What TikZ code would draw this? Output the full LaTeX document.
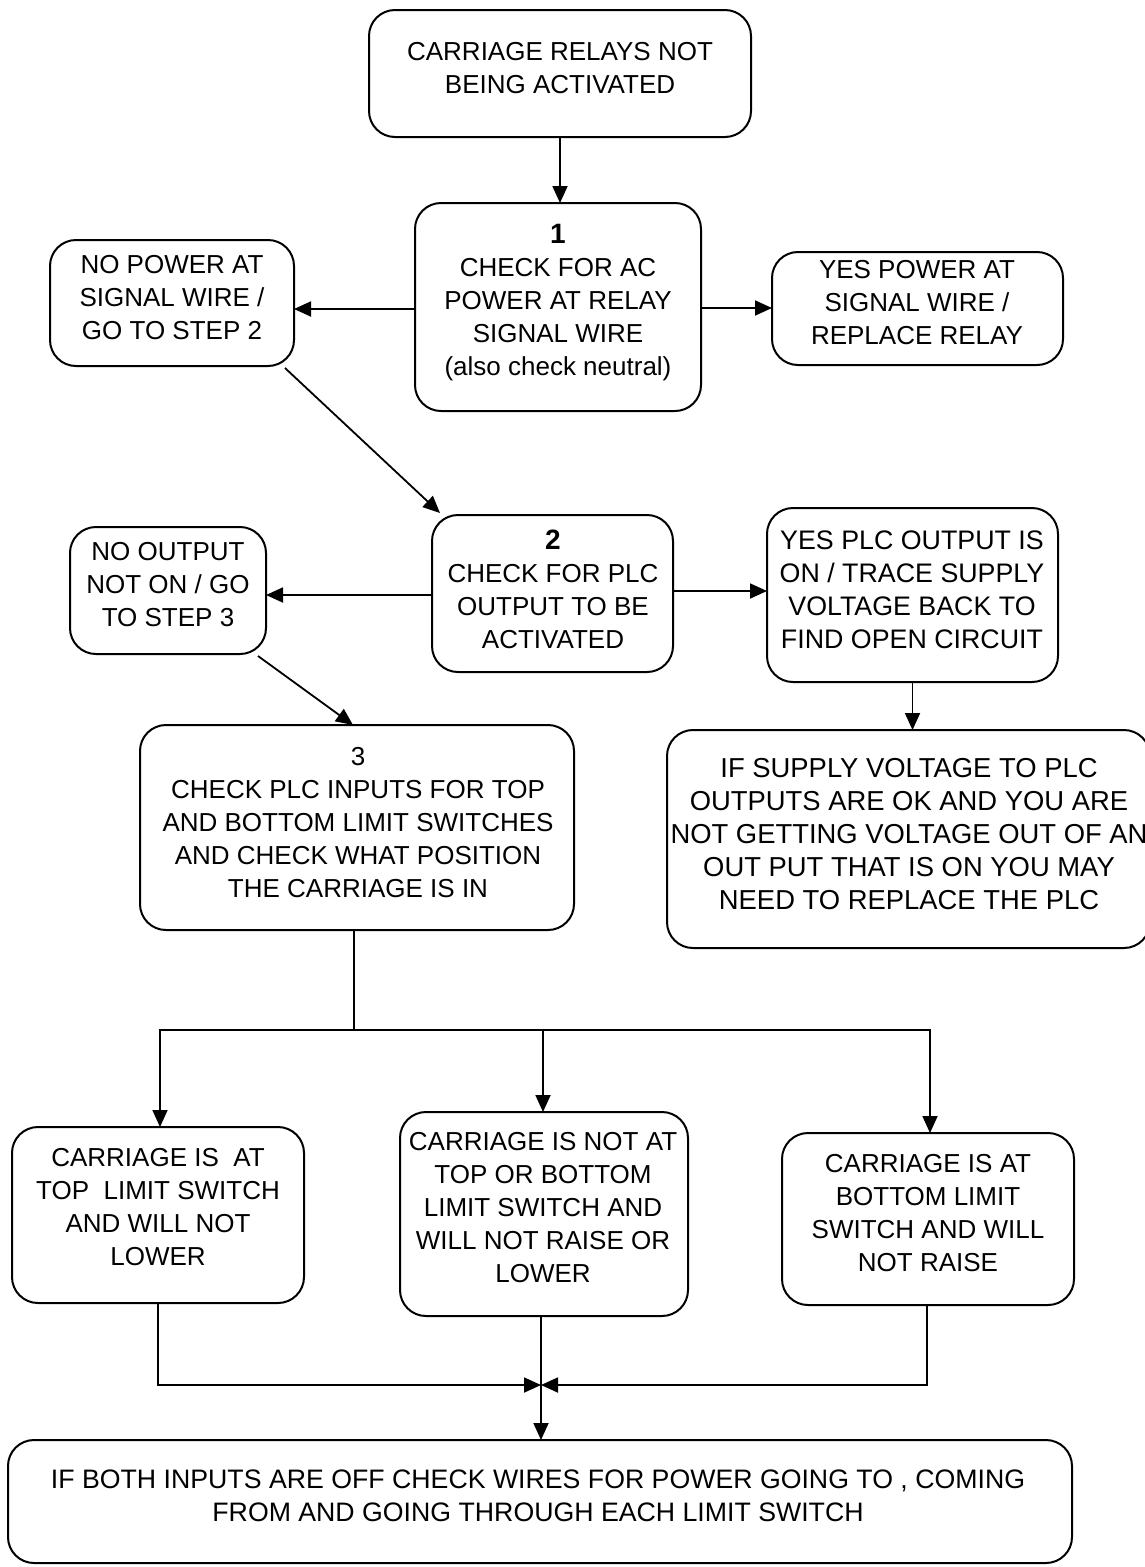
\documentclass[tikz,border=0pt]{standalone}
\usepackage{fontspec}
\setmainfont{Liberation Sans}
\usetikzlibrary{arrows.meta}
\tikzset{
  box/.style={draw=black, line width=2pt, rounded corners=26pt, inner sep=0pt, outer sep=0pt},
  txt/.style={align=center, inner sep=0pt, font=\fontsize{26}{33}\selectfont},
  conn/.style={draw=black, line width=1.8pt},
  arr/.style={conn, -{Triangle[length=17pt,width=15pt]}}
}
\begin{document}
\begin{tikzpicture}[x=1pt,y=-1pt]
\useasboundingbox (0,0) rectangle (1145,1567);
\fill[white] (0,0) rectangle (1145,1567);
% boxes
\node[box, minimum width=382pt, minimum height=127pt] (A) at (560,73.5) {};
\node[box, minimum width=286pt, minimum height=208pt] (b1) at (558,307) {};
\node[box, minimum width=244pt, minimum height=126pt] (NP) at (172,303) {};
\node[box, minimum width=291pt, minimum height=113pt] (YP) at (917.5,308.5) {};
\node[box, minimum width=241pt, minimum height=157pt] (b2) at (552.5,593.5) {};
\node[box, minimum width=196pt, minimum height=127pt] (NO) at (168,590.5) {};
\node[box, minimum width=291pt, minimum height=174pt] (YPLC) at (912.5,595) {};
\node[box, minimum width=483pt, minimum height=218pt] (IFS) at (908.5,839) {};
\node[box, minimum width=434pt, minimum height=205pt] (b3) at (357,827.5) {};
\node[box, minimum width=292pt, minimum height=176pt] (BL) at (158,1215) {};
\node[box, minimum width=288pt, minimum height=204pt] (BM) at (544,1214) {};
\node[box, minimum width=292pt, minimum height=172pt] (BR) at (928,1219) {};
\node[box, minimum width=1064pt, minimum height=123pt] (bot) at (540,1501.5) {};
% texts
\node[txt] (tA) at (560,68.5) {CARRIAGE RELAYS NOT\\BEING ACTIVATED};
\node[txt] (t1) at (558,302.5) {\textbf{\fontsize{28}{33}\selectfont 1}\\CHECK FOR AC\\POWER AT RELAY\\SIGNAL WIRE\\(also check neutral)};
\node[txt] (tNP) at (172,298) {NO POWER AT\\SIGNAL WIRE /\\GO TO STEP 2};
\node[txt] (tYP) at (917,303) {YES POWER AT\\SIGNAL WIRE /\\REPLACE RELAY};
\node[txt] (t2) at (553,589) {\textbf{\fontsize{28}{33}\selectfont 2}\\CHECK FOR PLC\\OUTPUT TO BE\\ACTIVATED};
\node[txt] (tNO) at (168,585) {NO OUTPUT\\NOT ON / GO\\TO STEP 3};
\node[txt, font=\fontsize{26.8}{33}\selectfont] (tYPLC) at (912,590) {YES PLC OUTPUT IS\\ON / TRACE SUPPLY\\VOLTAGE BACK TO\\FIND OPEN CIRCUIT};
\node[txt, font=\fontsize{27.4}{32.8}\selectfont] (tIFS) at (909,834) {IF SUPPLY VOLTAGE TO PLC\\OUTPUTS ARE OK AND YOU ARE\\NOT GETTING VOLTAGE OUT OF AN\\OUT PUT THAT IS ON YOU MAY\\NEED TO REPLACE THE PLC};
\node[txt] (t3) at (358,823) {3\\CHECK PLC INPUTS FOR TOP\\AND BOTTOM LIMIT SWITCHES\\AND CHECK WHAT POSITION\\THE CARRIAGE IS IN};
\node[txt] (tBL) at (158,1207) {CARRIAGE IS\ \ AT\\TOP\ \ LIMIT SWITCH\\AND WILL NOT\\LOWER};
\node[txt] (tBM) at (543,1208) {CARRIAGE IS NOT AT\\TOP OR BOTTOM\\LIMIT SWITCH AND\\WILL NOT RAISE OR\\LOWER};
\node[txt] (tBR) at (928,1213) {CARRIAGE IS AT\\BOTTOM LIMIT\\SWITCH AND WILL\\NOT RAISE};
\node[txt, font=\fontsize{26.7}{33}\selectfont] (tbot) at (538,1496) {IF BOTH INPUTS ARE OFF CHECK WIRES FOR POWER GOING TO , COMING\\FROM AND GOING THROUGH EACH LIMIT SWITCH};
% connectors
\draw[arr] (A.south) -- (A.south |- b1.north);
\draw[arr] ([yshift=-2pt]b1.west) -- ([yshift=-2pt]b1.west -| NP.east);
\draw[arr] ([yshift=-1pt]b1.east) -- ([yshift=-1pt]b1.east -| YP.west);
\draw[arr] ([xshift=-9pt,yshift=-2pt]NP.south east) -- ([xshift=8pt,yshift=2pt]b2.north west);
\draw[arr] ([yshift=-1.5pt]b2.west) -- ([yshift=-1.5pt]b2.west -| NO.east);
\draw[arr] ([yshift=2.5pt]b2.east) -- ([yshift=2.5pt]b2.east -| YPLC.west);
\draw[arr] (YPLC.south) -- (YPLC.south |- IFS.north);
\draw[arr] ([xshift=-8pt,yshift=-2pt]NO.south east) -- ([xshift=-4pt]b3.north);
\coordinate (split) at ([xshift=-3pt]b3.south |- 0,1030);
\draw[conn] ([xshift=-3pt]b3.south) -- (split);
\draw[arr] (split) -| ([xshift=2pt]BL.north);
\draw[arr] (split) -| ([xshift=-1pt]BM.north);
\draw[arr] (split) -| ([xshift=2pt]BR.north);
\coordinate (join) at (541,1385);
\draw[arr] (BL.south) |- (join);
\draw[arr] ([xshift=-1pt]BR.south) |- (join);
\draw[arr] ([xshift=-3pt]BM.south) -- ([xshift=-3pt]BM.south |- bot.north);
\end{tikzpicture}
\end{document}
